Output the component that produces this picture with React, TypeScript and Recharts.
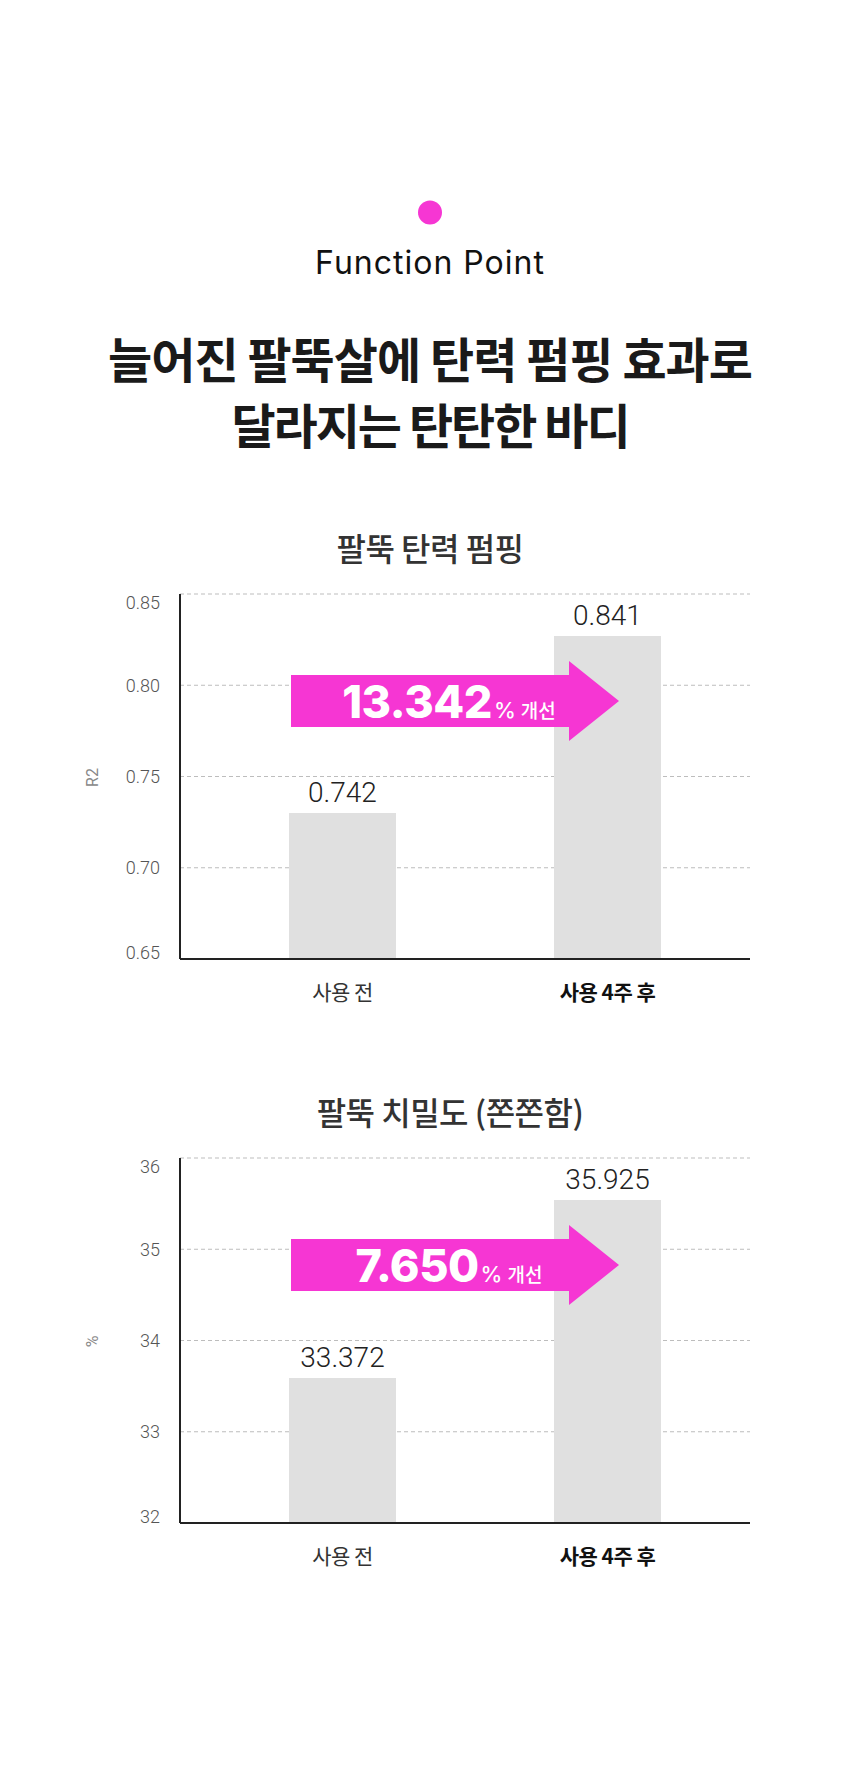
import React from 'react';
import { BarChart, Bar, XAxis, YAxis, CartesianGrid, LabelList } from 'recharts';

const categories = ['사용 전', '사용 4주 후'];

// 팔뚝 탄력 펌핑 (R2)
const elasticityValues = [0.73, 0.827];
const elasticityLabels = ['0.742', '0.841'];
const elasticityTicks = [0.65, 0.7, 0.75, 0.8, 0.85];

// 팔뚝 치밀도 (%)
const densityValues = [33.59, 35.54];
const densityLabels = ['33.372', '35.925'];
const densityTicks = [32, 33, 34, 35, 36];

const PINK = '#F636D3';
const KR = "'Noto Sans CJK KR', sans-serif";
const NUM = "Roboto, 'Noto Sans CJK KR', sans-serif";

interface PanelProps {
  top: number;
  title: string;
  titleX: number;
  unit: string;
  values: number[];
  labels: string[];
  ticks: number[];
  decimals: number;
  improvement: string;
}

const Panel: React.FC<PanelProps> = ({ top, title, titleX, unit, values, labels, ticks, decimals, improvement }) => {
  const data = categories.map((name, i) => ({ name, value: values[i], label: labels[i] }));
  const lo = ticks[0];
  const hi = ticks[ticks.length - 1];

  const renderYTick = (p: any) => {
    // end labels sit slightly inside the plot, like the original
    let shift = 0;
    if (p.payload.value === hi) shift = 9;
    if (p.payload.value === lo) shift = -6;
    return (
      <text x={p.x} y={p.y + shift} dy="0.35em" textAnchor="end" fontSize={18} fontWeight={300} fill="#555" fontFamily={NUM}>
        {Number(p.payload.value).toFixed(decimals)}
      </text>
    );
  };

  const renderXTick = (p: any) => {
    const bold = p.payload.value === categories[categories.length - 1];
    return (
      <text x={p.x} y={p.y + 33} textAnchor="middle" fontSize={21} fontFamily={KR}
        fontWeight={bold ? 700 : 400} fill={bold ? '#111' : '#333'} letterSpacing={-0.5}>
        {p.payload.value}
      </text>
    );
  };

  const renderBarLabel = (p: any) => (
    <text x={p.x + p.width / 2} y={p.y - 11} textAnchor="middle" fontSize={28} fontWeight={300} fill="#222" fontFamily={NUM}>
      {p.value}
    </text>
  );

  const renderUnit = (p: any) => {
    const vb = p.viewBox || { x: 0, y: 94, width: 180, height: 365 };
    const cx = vb.x + 92;
    const cy = vb.y + vb.height / 2 + 1;
    return (
      <text x={cx} y={cy} transform={`rotate(-90 ${cx} ${cy})`} textAnchor="middle" dominantBaseline="central"
        fontSize={16} fill="#888" fontFamily={NUM}>
        {unit}
      </text>
    );
  };

  return (
    <div style={{ position: 'absolute', left: 0, top, width: 860, height: 520 }}>
      <BarChart width={860} height={520} data={data} margin={{ top: 94, right: 110, bottom: 0, left: 0 }}>
        <CartesianGrid vertical={false} stroke="#bdbdbd" strokeDasharray="4 3" />
        <XAxis dataKey="name" height={61} interval={0} tickLine={false} padding={{ left: 30, right: 10 }}
          axisLine={{ stroke: '#222', strokeWidth: 2 }} tick={renderXTick} />
        <YAxis type="number" width={180} domain={[lo, hi]} ticks={ticks} allowDataOverflow tickLine={false} tickMargin={14}
          axisLine={{ stroke: '#222', strokeWidth: 2 }} tick={renderYTick} label={{ value: unit, content: renderUnit }} />
        <Bar dataKey="value" fill="#E0E0E0" barSize={107} isAnimationActive={false}>
          <LabelList dataKey="label" content={renderBarLabel} />
        </Bar>
      </BarChart>

      {/* title + improvement arrow */}
      <svg width={860} height={520} style={{ position: 'absolute', left: 0, top: 0, pointerEvents: 'none' }}>
        <text x={titleX} y={61} textAnchor="middle" fontSize={32} fontWeight={500} fill="#333" fontFamily={KR} letterSpacing={-0.5}>{title}</text>
        <rect x={291} y={175} width={280} height={52} fill={PINK} />
        <polygon points="569,161 619,201 569,241" fill={PINK} />
        <text x={449} y={218} textAnchor="middle" fill="#fff">
          <tspan fontSize={45} fontWeight={800} fontFamily="Inter, Roboto, sans-serif" letterSpacing={-0.5}>{improvement}</tspan>
          <tspan fontSize={22} fontWeight={500} fontFamily="Inter, Roboto, sans-serif" dx={2}>%</tspan>
          <tspan fontSize={19} fontWeight={500} fontFamily={KR} dx={5}>개선</tspan>
        </text>
      </svg>
    </div>
  );
};

export default function App() {
  return (
    <div style={{ position: 'absolute', left: 0, top: 0, width: 860, height: 1767, background: '#fff', overflow: 'hidden' }}>
      <svg width={860} height={480} style={{ position: 'absolute', left: 0, top: 0 }}>
        <circle cx={430} cy={212.5} r={12} fill={PINK} />
        <text x={430} y={274} textAnchor="middle" fontSize={32} fontWeight={400} fill="#111" fontFamily="Inter, sans-serif" letterSpacing={1}>
          Function Point
        </text>
        <text x={430} y={378} textAnchor="middle" fontSize={48} fontWeight={700} fill="#1a1a1a" fontFamily={KR} letterSpacing={-1}>
          늘어진 팔뚝살에 탄력 펌핑 효과로
        </text>
        <text x={430} y={444} textAnchor="middle" fontSize={48} fontWeight={700} fill="#1a1a1a" fontFamily={KR} letterSpacing={-2}>
          달라지는 탄탄한 바디
        </text>
      </svg>

      <Panel top={500} title="팔뚝 탄력 펌핑" titleX={430} unit="R2" values={elasticityValues} labels={elasticityLabels}
        ticks={elasticityTicks} decimals={2} improvement="13.342" />
      <Panel top={1064} title="팔뚝 치밀도 (쫀쫀함)" titleX={450} unit="%" values={densityValues} labels={densityLabels}
        ticks={densityTicks} decimals={0} improvement="7.650" />
    </div>
  );
}
